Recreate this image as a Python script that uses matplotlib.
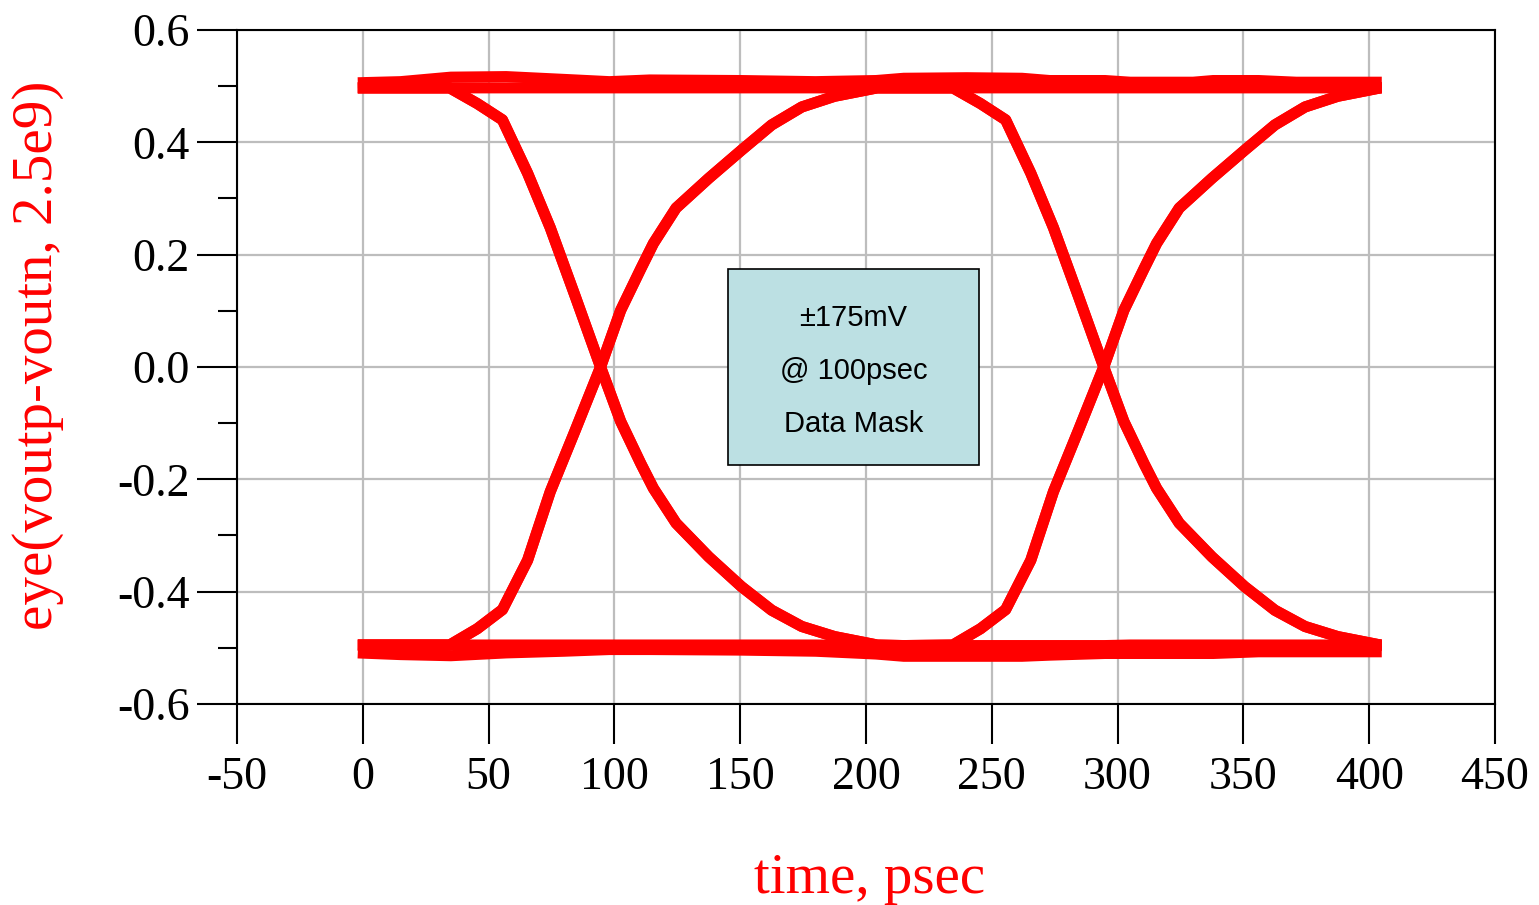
import matplotlib
matplotlib.use("Agg")
import matplotlib.pyplot as plt
from matplotlib.patches import Rectangle

# flat rails (time in psec, value in V)
rail_t = [-2, 15, 35, 57, 80, 98, 114, 150, 180, 204, 215, 240, 262, 273, 295, 305, 330, 338, 356, 371, 405]
hi_outer = [0.506, 0.508, 0.516, 0.517, 0.512, 0.508, 0.511, 0.510, 0.508, 0.510, 0.514, 0.515,
            0.514, 0.510, 0.510, 0.507, 0.507, 0.510, 0.510, 0.507, 0.507]
hi_inner = [0.497, 0.497, 0.497, 0.497, 0.497, 0.497, 0.497, 0.497, 0.497, 0.497, 0.497, 0.497,
            0.497, 0.497, 0.497, 0.497, 0.497, 0.497, 0.497, 0.497, 0.497]
lo_outer = [-0.509, -0.512, -0.514, -0.509, -0.506, -0.503, -0.503, -0.504, -0.506, -0.511, -0.515,
            -0.515, -0.515, -0.513, -0.510, -0.510, -0.510, -0.510, -0.507, -0.507, -0.507]
lo_inner = [-0.495, -0.495, -0.495, -0.495, -0.495, -0.495, -0.495, -0.495, -0.495, -0.496, -0.496,
            -0.496, -0.496, -0.496, -0.496, -0.495, -0.495, -0.495, -0.495, -0.495, -0.495]

# edge shapes, offset in psec from the zero crossing
edge_off = [-60, -49, -39, -29, -20, -10, 0, 8, 16, 21, 30, 43, 56, 68, 80, 93, 110]
fall_v = [0.497, 0.469, 0.440, 0.345, 0.248, 0.125, 0.0, -0.097, -0.172, -0.216, -0.278,
          -0.338, -0.391, -0.433, -0.462, -0.480, -0.495]
rise_v = [-0.495, -0.466, -0.432, -0.344, -0.222, -0.112, 0.0, 0.101, 0.175, 0.220, 0.283,
          0.336, 0.386, 0.431, 0.463, 0.482, 0.497]
crossings = [94.5, 294.5]

# bit patterns overlaid in the eye
patterns = [(0, 0, 0), (0, 0, 1), (0, 1, 0), (0, 1, 1), (1, 0, 0), (1, 0, 1), (1, 1, 0), (1, 1, 1)]

# mask box
mask_t = [145, 245]
mask_v = [-0.175, 0.175]
mask_lines = ["\u00b1175mV", "@ 100psec", "Data Mask"]
mask_line_v = [0.087, -0.007, -0.101]

x_ticks = [-50, 0, 50, 100, 150, 200, 250, 300, 350, 400, 450]
y_ticks = [-0.6, -0.4, -0.2, 0.0, 0.2, 0.4, 0.6]
y_tick_labels = ["-0.6", "-0.4", "-0.2", "0.0", "0.2", "0.4", "0.6"]
y_minor = [-0.5, -0.3, -0.1, 0.1, 0.3, 0.5]


def build_trace(bits):
    if bits[0] == bits[1] == bits[2]:
        return rail_t, (hi_outer if bits[0] else lo_outer)
    pts = []
    windows = []
    for k, c in enumerate(crossings):
        if bits[k] != bits[k + 1]:
            shape = fall_v if bits[k] else rise_v
            windows.append((c + edge_off[0], c + edge_off[-1]))
            pts += [(c + o, v) for o, v in zip(edge_off, shape)]
    for i, t in enumerate(rail_t):
        if any(a <= t <= b for a, b in windows):
            continue
        bit = bits[0] if t < crossings[0] else (bits[1] if t < crossings[1] else bits[2])
        pts.append((t, hi_inner[i] if bit else lo_inner[i]))
    pts.sort()
    return [p[0] for p in pts], [p[1] for p in pts]


plt.rcParams["font.family"] = "Liberation Serif"
plt.rcParams["axes.unicode_minus"] = False

fig = plt.figure(figsize=(15.39, 9.05), dpi=100)
ax = fig.add_axes([237 / 1539, 1 - 704 / 905, 1258 / 1539, 674 / 905])

for bits in patterns:
    t, v = build_trace(bits)
    ax.plot(t, v, color="#ff0000", lw=8, solid_capstyle="butt", solid_joinstyle="round", zorder=3)

ax.add_patch(Rectangle((mask_t[0], mask_v[0]), mask_t[1] - mask_t[0], mask_v[1] - mask_v[0],
                       facecolor="#bce0e3", edgecolor="black", lw=1.2, zorder=4))
for s, yv in zip(mask_lines, mask_line_v):
    ax.text(sum(mask_t) / 2, yv, s, ha="center", va="center", fontsize=21,
            family="Liberation Sans", zorder=5)

ax.set_xlim(-50, 450)
ax.set_ylim(-0.6, 0.6)
ax.set_xticks(x_ticks)
ax.set_yticks(y_ticks, y_tick_labels)
ax.set_yticks(y_minor, minor=True)
ax.grid(True, which="major", color="#bdbdbd", lw=1.6, zorder=0)
ax.set_axisbelow(True)

ax.tick_params(which="major", direction="out", length=29, width=1.5, labelsize=33)
ax.tick_params(axis="x", pad=9)
ax.tick_params(axis="y", pad=5)
ax.tick_params(which="minor", direction="out", length=14, width=1.5)
for sp in ax.spines.values():
    sp.set_linewidth(1.5)

ax.set_xlabel("time, psec", color="#ff0000", fontsize=41, va="center")
ax.xaxis.set_label_coords(0.503, -0.26)
ax.set_ylabel("eye(voutp-voutn, 2.5e9)", color="#ff0000", fontsize=41, va="center")
ax.yaxis.set_label_coords(-0.158, 0.518)

fig.savefig("out.png", dpi=100)
plt.close(fig)
